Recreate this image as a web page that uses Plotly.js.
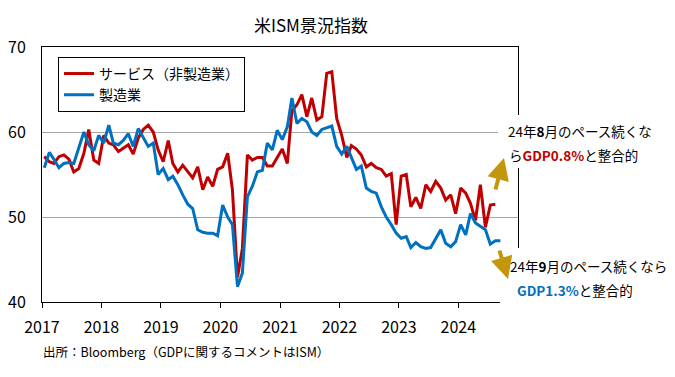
<!DOCTYPE html>
<html>
<head>
<meta charset="utf-8">
<script src="https://cdn.plot.ly/plotly-3.0.1.min.js"></script>
<style>html,body{margin:0;padding:0;background:#fff;}#chart{width:675px;height:377px;}</style>
</head>
<body>
<div id="chart"></div>
<script>
// ---- data (monthly, Jan 2017 onward) ----
const startYear = 2017;
const seriesNames = ['サービス（非製造業）', '製造業'];
const services = [
  57.1, 56.5, 56.3, 57.1, 57.3, 56.8, 55.3, 55.7, 57.5, 60.3, 56.7, 56.3,
  59.6, 58.7, 58.5, 57.7, 58.1, 58.5, 57.4, 59.3, 60.3, 60.8, 60.0, 57.9,
  56.5, 59.0, 56.3, 55.3, 56.1, 55.3, 54.6, 55.9, 53.2, 54.7, 53.6, 55.6,
  55.9, 57.5, 53.2, 42.9, 46.3, 57.3, 56.7, 57.0, 57.0, 56.0, 56.0, 57.0,
  58.0, 56.3, 62.5, 63.2, 64.4, 61.8, 64.0, 61.4, 61.8, 66.9, 67.1, 61.6,
  59.6, 57.0, 58.4, 58.0, 57.3, 55.9, 56.3, 55.8, 55.6, 54.8, 55.1, 49.1,
  54.8, 55.0, 51.2, 52.3, 51.0, 53.8, 53.0, 54.2, 53.4, 52.0, 52.6, 50.4,
  53.4, 52.8, 51.6, 49.6, 53.8, 48.8, 51.4, 51.5
];
const manufacturing = [
  55.8, 57.6, 56.8, 55.8, 56.3, 56.4, 56.3, 58.2, 60.0, 58.5, 57.8, 59.6,
  58.7, 60.8, 58.7, 58.5, 59.0, 59.8, 58.3, 60.4, 59.4, 58.3, 58.7, 55.0,
  55.7, 54.4, 54.8, 53.8, 52.6, 51.5, 51.0, 48.5, 48.2, 48.1, 48.1, 47.8,
  51.4, 50.0, 49.1, 41.8, 43.4, 52.4, 53.6, 55.3, 55.5, 58.7, 57.9, 60.2,
  59.1, 60.6, 64.0, 61.0, 61.6, 61.2, 60.0, 59.6, 60.3, 60.5, 60.7, 58.3,
  57.4, 58.3, 57.1, 55.6, 56.0, 53.4, 53.0, 52.8, 51.2, 50.0, 49.1, 48.1,
  47.5, 47.7, 46.4, 47.0, 46.5, 46.3, 46.4, 47.4, 48.5, 46.9, 46.5, 47.1,
  49.1, 47.9, 50.4, 49.3, 48.9, 48.5, 46.8, 47.2, 47.2
];
const yearLabels = ['2017', '2018', '2019', '2020', '2021', '2022', '2023', '2024'];
const yTicks = [40, 50, 60, 70];

// ---- helpers ----
function monthDates(n) {
  const out = [];
  for (let i = 0; i < n; i++) {
    const y = startYear + Math.floor(i / 12);
    const m = (i % 12) + 1;
    out.push(y + '-' + (m < 10 ? '0' + m : m) + '-15');
  }
  return out;
}
const FONT = '"Noto Sans CJK JP", "Noto Sans", sans-serif';
const RED = '#C00000';
const BLUE = '#0070C0';
const GOLD = '#C4960C';
const NOTE = 13.5;

const traces = [
  {x: monthDates(services.length), y: services, name: seriesNames[0], type: 'scatter', mode: 'lines',
   line: {color: RED, width: 3}},
  {x: monthDates(manufacturing.length), y: manufacturing, name: seriesNames[1], type: 'scatter', mode: 'lines',
   line: {color: BLUE, width: 3}}
];

const layout = {
  width: 675, height: 377,
  margin: {l: 42, r: 157, t: 47, b: 75, pad: 0},
  paper_bgcolor: '#fff', plot_bgcolor: '#fff',
  font: {family: FONT, color: '#000', size: 14},
  title: {text: '米ISM景況指数', font: {size: 17, family: FONT, color: '#000'},
          x: 0.565, xref: 'paper', xanchor: 'center', y: 0.931, yref: 'container', yanchor: 'middle'},
  xaxis: {type: 'date', range: ['2017-01-01', '2025-01-01'],
          tickvals: yearLabels.map(y => y + '-01-01'), ticktext: yearLabels,
          ticks: 'outside', ticklen: 5, tickwidth: 1, tickcolor: '#000',
          showline: true, linecolor: '#000', linewidth: 1, mirror: true,
          showgrid: false, zeroline: false, tickfont: {size: 16}, ticklabelstandoff: 6, fixedrange: true},
  yaxis: {range: [40, 70], tickvals: yTicks, ticks: '',
          showline: true, linecolor: '#000', linewidth: 1, mirror: true,
          showgrid: true, gridcolor: '#A6A6A6', gridwidth: 1, zeroline: false,
          tickfont: {size: 16}, ticklabelstandoff: 12, fixedrange: true},
  showlegend: true,
  legend: {x: 0.0336, y: 0.961, xanchor: 'left', yanchor: 'top', bordercolor: '#000', borderwidth: 1,
           bgcolor: '#fff', font: {size: 14}, tracegroupgap: 0},
  shapes: [
    {type: 'rect', xref: 'paper', yref: 'paper', x0: 0.958, x1: 1.34, y0: 0.5255, y1: 0.733,
     fillcolor: '#fff', line: {width: 0}, layer: 'above'},
    {type: 'rect', xref: 'paper', yref: 'paper', x0: 0.962, x1: 1.34, y0: -0.075, y1: 0.2118,
     fillcolor: '#fff', line: {width: 0}, layer: 'above'}
  ],
  annotations: [
    {xref: 'paper', yref: 'paper', x: 0.975, y: 0.6706, xanchor: 'left', yanchor: 'middle', showarrow: false,
     text: '24年<b>8</b>月のペース続くな', font: {size: NOTE}},
    {xref: 'paper', yref: 'paper', x: 0.977, y: 0.5765, xanchor: 'left', yanchor: 'middle', showarrow: false,
     text: 'ら<b><span style="color:' + RED + '">GDP0.8%</span></b>と整合的', font: {size: NOTE}},
    {xref: 'paper', yref: 'paper', x: 0.98, y: 0.1424, xanchor: 'left', yanchor: 'middle', showarrow: false,
     text: '24年<b>9</b>月のペース続くなら', font: {size: NOTE}},
    {xref: 'paper', yref: 'paper', x: 0.993, y: 0.047, xanchor: 'left', yanchor: 'middle', showarrow: false,
     text: '<b><span style="color:' + BLUE + '">GDP1.3%</span></b>と整合的', font: {size: NOTE}},
    {xref: 'paper', yref: 'paper', x: 0.9706, y: 0.5647, ax: -9, ay: 33, text: '', showarrow: true,
     arrowcolor: GOLD, arrowwidth: 4, arrowhead: 2, arrowsize: 1.1},
    {xref: 'paper', yref: 'paper', x: 0.979, y: 0.0902, ax: -9, ay: -30, text: '', showarrow: true,
     arrowcolor: GOLD, arrowwidth: 4, arrowhead: 2, arrowsize: 1.1},
    {xref: 'paper', yref: 'paper', x: -0.002, y: -0.196, xanchor: 'left', yanchor: 'middle', showarrow: false,
     text: '出所：Bloomberg（GDPに関するコメントはISM）', font: {size: 12.5}}
  ]
};

Plotly.newPlot('chart', traces, layout, {displayModeBar: false, staticPlot: true});
</script>
</body>
</html>
